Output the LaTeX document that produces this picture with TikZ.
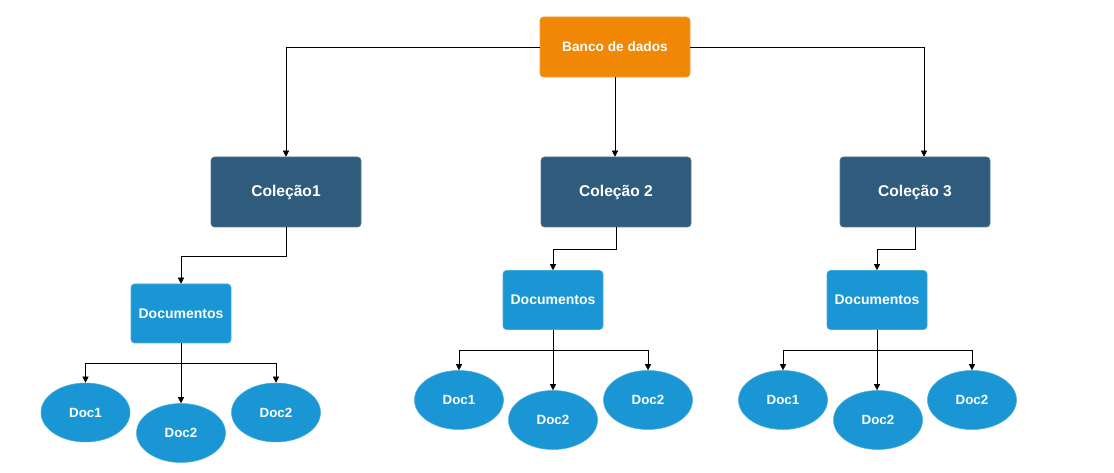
\documentclass[tikz,border=0pt]{standalone}
\usepackage{fontspec}
\setmainfont{Liberation Sans}
\usepackage{tikz}
\usetikzlibrary{arrows.meta}

\definecolor{dborange}{HTML}{F08705}
\definecolor{coldark}{HTML}{2F5B7C}
\definecolor{doclight}{HTML}{1A96D4}

\tikzset{
  dbbox/.style={fill=dborange,draw=dborange!80!white,rounded corners=2.5pt,minimum width=112.5pt,minimum height=45pt,inner sep=0pt,text=white,font=\bfseries\fontsize{10.25}{12}\selectfont},
  colbox/.style={fill=coldark,draw=coldark!80!white,rounded corners=2.5pt,minimum width=112.5pt,minimum height=52.5pt,inner sep=0pt,text=white,font=\bfseries\fontsize{11.7}{13}\selectfont},
  docsbox/.style={fill=doclight,draw=doclight!80!white,rounded corners=2.5pt,minimum width=75pt,minimum height=44.25pt,inner sep=0pt,text=white,font=\bfseries\fontsize{10.5}{12}\selectfont},
  docell/.style={ellipse,fill=doclight,draw=doclight!80!white,minimum width=66.75pt,minimum height=44.25pt,inner sep=0pt,text=white,font=\bfseries\fontsize{10}{12}\selectfont},
  arr/.style={draw=black,thin,-{Triangle[length=4.5pt,width=4.5pt]}}
}

\usetikzlibrary{shapes.geometric}

\begin{document}
\begin{tikzpicture}[x=0.75pt,y=-0.75pt]
        \useasboundingbox (0,0) rectangle (1114,473);
        \node[dbbox] (db) at (615,47) {Banco de dados};
        \node[colbox] (c1) at (286,192) {Coleção1};
        \node[colbox] (c2) at (616,192) {Coleção 2};
        \node[colbox] (c3) at (915,192) {Coleção 3};
        \node[docsbox] (d1) at (181,313.5) {Documentos};
        \node[docsbox] (d2) at (553,300) {Documentos};
        \node[docsbox] (d3) at (877,300) {Documentos};
        \node[docell] (e1a) at (85.5,412.5) {Doc1};
        \node[docell] (e1b) at (181,433) {Doc2};
        \node[docell] (e1c) at (276,412.5) {Doc2};
        \node[docell] (e2a) at (459,400) {Doc1};
        \node[docell] (e2b) at (553,420) {Doc2};
        \node[docell] (e2c) at (648,400) {Doc2};
        \node[docell] (e3a) at (783,400) {Doc1};
        \node[docell] (e3b) at (878,420) {Doc2};
        \node[docell] (e3c) at (972,400) {Doc2};
        \coordinate (c3in) at ([xshift=6.75pt]c3.north);
        \draw[arr] (db.west) -| (c1.north);
        \draw[arr] (db.south) -- (db.south |- c2.north);
        \draw[arr] (db.east) -| (c3in);
        \draw[arr] (c1.south) -- ++(0,29) -| (d1.north);
        \draw[arr] (c2.south) -- ++(0,22) -| (d2.north);
        \draw[arr] (c3.south) -- ++(0,22) -| (d3.north);
        \draw[arr] (d1.south) -- (e1b.north);
        \draw[arr] (d1.south) -- ++(0,20) -| (e1a.north);
        \draw[arr] (d1.south) -- ++(0,20) -| (e1c.north);
        \draw[arr] (d2.south) -- (e2b.north);
        \draw[arr] (d2.south) -- ++(0,21) -| (e2a.north);
        \draw[arr] (d2.south) -- ++(0,21) -| (e2c.north);
        \draw[arr] (d3.south) -- (d3.south |- e3b.north);
        \draw[arr] (d3.south) -- ++(0,21) -| (e3a.north);
        \draw[arr] (d3.south) -- ++(0,21) -| (e3c.north);
      \end{tikzpicture}
\end{document}
